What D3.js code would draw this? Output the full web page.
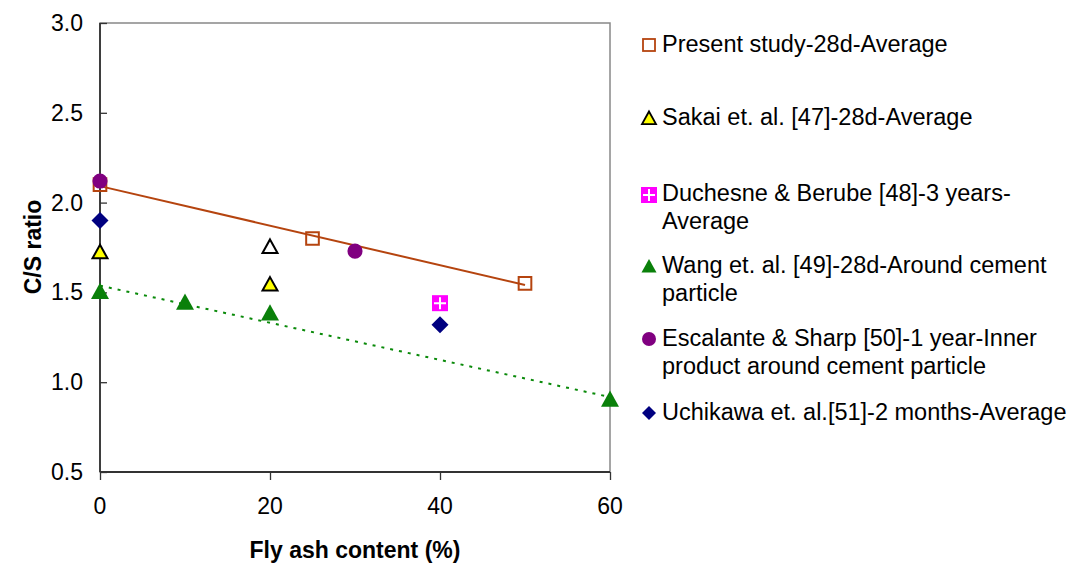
<!DOCTYPE html>
<html lang="en">
<head>
<meta charset="UTF-8">
<title>C/S ratio vs fly ash</title>
<script src="https://cdn.jsdelivr.net/npm/d3@7"></script>
<style>
  body { margin: 0; background: #fff; }
  text { font-family: "Liberation Sans", Arial, sans-serif; fill: #000; }
</style>
</head>
<body>
<svg id="chart" width="1078" height="563"></svg>
<script>
// data
const presentX = [0, 25, 50];
const presentY = [2.10, 1.80, 1.55];
const sakaiX = [0, 20];
const sakaiY = [1.72, 1.54];
const sakaiOpenX = [20];
const sakaiOpenY = [1.75];
const duchesneX = [40];
const duchesneY = [1.44];
const wangX = [0, 10, 20, 60];
const wangY = [1.50, 1.44, 1.38, 0.90];
const escalanteX = [0, 30];
const escalanteY = [2.12, 1.73];
const uchikawaX = [0, 40];
const uchikawaY = [1.90, 1.32];

const xTicks = [0, 20, 40, 60];
const yTicks = [0.5, 1.0, 1.5, 2.0, 2.5, 3.0];

const legendLines = [
  ["Present study-28d-Average"],
  ["Sakai et. al. [47]-28d-Average"],
  ["Duchesne & Berube [48]-3 years-", "Average"],
  ["Wang et. al. [49]-28d-Around cement", "particle"],
  ["Escalante & Sharp [50]-1 year-Inner", "product around cement particle"],
  ["Uchikawa et. al.[51]-2 months-Average"]
];

const svg = d3.select("#chart");
const x = d3.scaleLinear().domain([0, 60]).range([100, 610]);
const y = d3.scaleLinear().domain([0.5, 3.0]).range([472, 23]);

// plot box
svg.append("rect")
  .attr("x", 100).attr("y", 23).attr("width", 510).attr("height", 449)
  .attr("fill", "none").attr("stroke", "#888").attr("stroke-width", 1.5);

// axes
const yAxis = d3.axisRight(y).tickValues(yTicks).tickSize(7).tickFormat("");
svg.append("g").attr("transform", "translate(100,0)").call(yAxis)
  .call(g => g.select(".domain").remove())
  .selectAll("line").attr("stroke", "#333").attr("stroke-width", 1.3);
svg.append("line").attr("x1", 100).attr("x2", 100).attr("y1", 23).attr("y2", 472)
  .attr("stroke", "#333").attr("stroke-width", 1.8);

yTicks.forEach(v => {
  svg.append("text").attr("x", 83).attr("y", y(v) + 8)
    .attr("text-anchor", "end").attr("font-size", 23).text(v.toFixed(1));
});

const xAxis = d3.axisBottom(x).tickValues(xTicks).tickSize(8).tickFormat("");
svg.append("g").attr("transform", "translate(0,472)").call(xAxis)
  .call(g => g.select(".domain").remove())
  .selectAll("line").attr("stroke", "#333").attr("stroke-width", 1.3);
svg.append("line").attr("x1", 100).attr("x2", 610).attr("y1", 472).attr("y2", 472)
  .attr("stroke", "#333").attr("stroke-width", 1.8);

xTicks.forEach(v => {
  svg.append("text").attr("x", x(v)).attr("y", 514)
    .attr("text-anchor", "middle").attr("font-size", 23).text(v);
});

svg.append("text").attr("x", 355).attr("y", 558).attr("text-anchor", "middle")
  .attr("font-size", 23).attr("font-weight", "bold").text("Fly ash content (%)");
svg.append("text").attr("transform", "translate(41,247) rotate(-90)")
  .attr("text-anchor", "middle").attr("font-size", 23).attr("font-weight", "bold")
  .text("C/S ratio");

// linear trend lines
function fit(xs, ys) {
  const mx = d3.mean(xs), my = d3.mean(ys);
  let sxy = 0, sxx = 0;
  xs.forEach((v, i) => { sxy += (v - mx) * (ys[i] - my); sxx += (v - mx) * (v - mx); });
  const b = sxy / sxx;
  return v => my + b * (v - mx);
}
const fp = fit(presentX, presentY);
svg.append("line")
  .attr("x1", x(0)).attr("y1", y(fp(0))).attr("x2", x(50)).attr("y2", y(fp(50)))
  .attr("stroke", "#b5440f").attr("stroke-width", 2);
const fw = fit(wangX, wangY);
svg.append("line")
  .attr("x1", x(0)).attr("y1", y(fw(0))).attr("x2", x(60)).attr("y2", y(fw(60)))
  .attr("stroke", "#0a8a0a").attr("stroke-width", 2).attr("stroke-dasharray", "3,6");

const sym = (type, size) => d3.symbol().type(type).size(size)();
const diamond = r => `M0,${-r}L${r},0L0,${r}L${-r},0Z`;
function pts(xs, ys, d, fill, stroke, sw) {
  svg.append("g").selectAll("path").data(xs.map((v, i) => [v, ys[i]])).join("path")
    .attr("transform", p => `translate(${x(p[0])},${y(p[1])})`)
    .attr("d", d)
    .attr("fill", fill).attr("stroke", stroke).attr("stroke-width", sw);
}
function triPath(s) {
  const h = s * 0.9;
  return `M0,${-h * 0.6}L${s / 2},${h * 0.4}L${-s / 2},${h * 0.4}Z`;
}

// markers
pts(presentX, presentY, sym(d3.symbolSquare, 160), "none", "#b5440f", 2);
pts(wangX, wangY, triPath(18), "#0a800a", "none", 0);
pts(sakaiX, sakaiY, triPath(15), "#ffff00", "#000", 2);
pts(sakaiOpenX, sakaiOpenY, triPath(15), "#fff", "#000", 2);
svg.append("g").selectAll("g").data(duchesneX.map((v, i) => [v, duchesneY[i]])).join("g")
  .attr("transform", d => `translate(${x(d[0])},${y(d[1])})`)
  .each(function () {
    const g = d3.select(this);
    g.append("rect").attr("x", -8).attr("y", -8).attr("width", 16).attr("height", 16).attr("fill", "#ff00ff");
    g.append("path").attr("d", "M-6,0H6M0,-6V6").attr("stroke", "#fff").attr("stroke-width", 2);
  });
pts(escalanteX, escalanteY, sym(d3.symbolCircle, 180), "#800080", "none", 0);
pts(uchikawaX, uchikawaY, diamond(8.5), "#000080", "none", 0);

// legend
const legY = [44, 117, 193, 265, 338, 412];
const lg = svg.append("g");
legendLines.forEach((lines, i) => {
  lines.forEach((t, j) => {
    lg.append("text").attr("x", 662).attr("y", legY[i] + 8 + j * 28)
      .attr("font-size", 23.5).text(t);
  });
});
const lx = 649;
lg.append("rect").attr("x", lx - 6).attr("y", legY[0] - 5).attr("width", 12).attr("height", 12)
  .attr("fill", "none").attr("stroke", "#b5440f").attr("stroke-width", 1.8);
lg.append("path").attr("transform", `translate(${lx},${legY[1] + 2})`).attr("d", triPath(14))
  .attr("fill", "#ffff00").attr("stroke", "#000").attr("stroke-width", 1.8);
lg.append("rect").attr("x", lx - 8).attr("y", legY[2] - 6).attr("width", 16).attr("height", 16).attr("fill", "#ff00ff");
lg.append("path").attr("d", `M${lx - 6},${legY[2] + 2}H${lx + 6}M${lx},${legY[2] - 4}V${legY[2] + 8}`)
  .attr("stroke", "#fff").attr("stroke-width", 2);
lg.append("path").attr("transform", `translate(${lx},${legY[3] + 2})`).attr("d", triPath(15)).attr("fill", "#0a800a");
lg.append("circle").attr("cx", lx).attr("cy", legY[4] + 1).attr("r", 7).attr("fill", "#800080");
lg.append("path").attr("transform", `translate(${lx},${legY[5] + 1})`).attr("d", diamond(7)).attr("fill", "#000080");
</script>
</body>
</html>
